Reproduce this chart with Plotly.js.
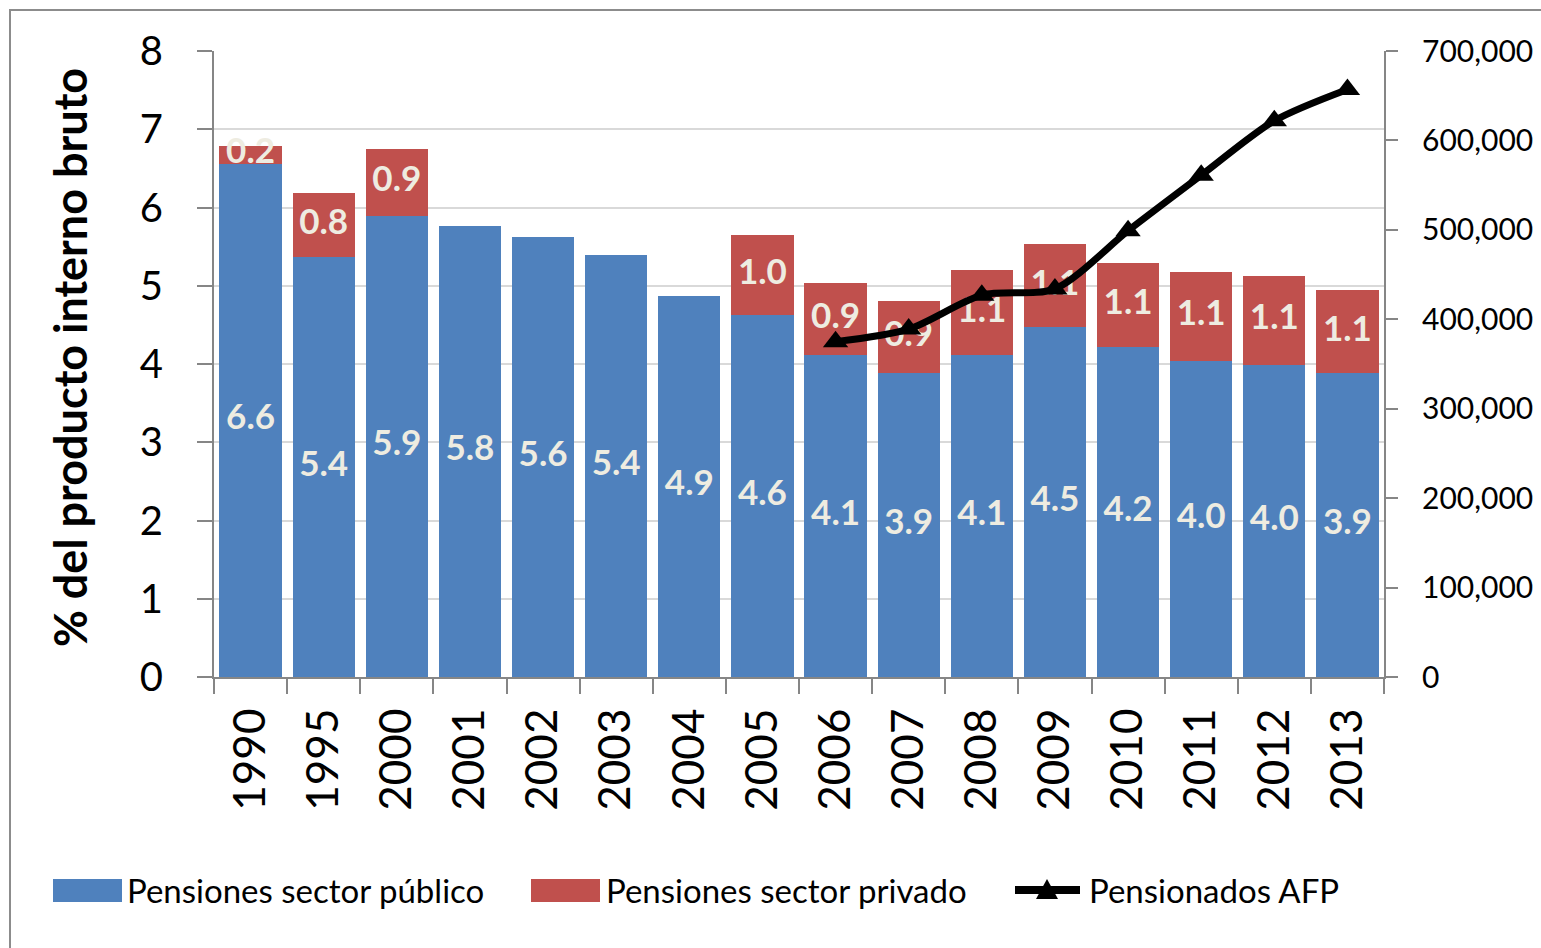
<!DOCTYPE html>
<html>
<head>
<meta charset="utf-8">
<script src="https://cdn.plot.ly/plotly-3.0.1.min.js"></script>
<style>
  html, body { margin: 0; padding: 0; background: #ffffff; overflow: hidden; }
  #chart { width: 1541px; height: 948px; }
  #frame { position: absolute; left: 9px; top: 9px; width: 1600px; height: 1000px;
           border: 2px solid #8c8c8c; pointer-events: none; }
</style>
</head>
<body>
<div id="chart"></div>
<div id="frame"></div>
<script>
// ---- data ----
const years = ['1990','1995','2000','2001','2002','2003','2004','2005','2006','2007','2008','2009','2010','2011','2012','2013'];
const publico = [6.56, 5.37, 5.89, 5.76, 5.62, 5.39, 4.87, 4.62, 4.11, 3.88, 4.11, 4.47, 4.22, 4.04, 3.99, 3.88];
const privado = [0.23, 0.81, 0.86, null, null, null, null, 1.03, 0.93, 0.92, 1.09, 1.06, 1.07, 1.14, 1.13, 1.06];
const afpYears = ['2006','2007','2008','2009','2010','2011','2012','2013'];
const pensionadosAFP = [375000, 389000, 427000, 434000, 499000, 561000, 622000, 657000];
const seriesNames = ['Pensiones sector público', 'Pensiones sector privado', 'Pensionados AFP'];
const yTitle = '% del producto interno bruto';

// ---- styles ----
const FONT = 'Lato, "Open Sans", sans-serif';
const BLUE = '#4f81bd', RED = '#c0504d', LABEL = '#eeece1', AXIS = '#868686', GRID = '#d9d9d9';

// plot-area pixel frame (used only to place the hand-made legend and title)
const L = 214, R = 1384, T = 51, B = 677;
const px = v => (v - L) / (R - L);
const py = v => (B - v) / (B - T);

const labelFont = { family: FONT, size: 35, color: LABEL, weight: 'bold' };

const traces = [
  { type: 'bar', x: years, y: publico, name: seriesNames[0], marker: { color: BLUE }, hoverinfo: 'skip' },
  { type: 'bar', x: years, y: privado, name: seriesNames[1], marker: { color: RED }, hoverinfo: 'skip' },
  { type: 'scatter', mode: 'text', x: years, y: publico.map(v => v / 2),
    text: publico.map(v => v.toFixed(1)), textfont: labelFont, hoverinfo: 'skip', showlegend: false },
  { type: 'scatter', mode: 'text',
    x: years.filter((y, i) => privado[i] != null),
    y: publico.map((v, i) => privado[i] != null ? v + privado[i] / 2 : null).filter(v => v != null),
    text: privado.filter(v => v != null).map(v => v.toFixed(1)),
    textfont: labelFont, hoverinfo: 'skip', showlegend: false },
  { type: 'scatter', mode: 'lines+markers', x: afpYears, y: pensionadosAFP, yaxis: 'y2', name: seriesNames[2],
    line: { color: '#000000', width: 7, shape: 'spline', smoothing: 0.8 },
    marker: { symbol: 'triangle-up', size: 22, color: '#000000' }, hoverinfo: 'skip' }
];

const layout = {
  width: 1541, height: 948,
  margin: { l: L, r: 1541 - R, t: T, b: 948 - B, pad: 0 },
  paper_bgcolor: '#ffffff', plot_bgcolor: '#ffffff',
  font: { family: FONT, color: '#000000' },
  barmode: 'stack', bargap: 0.15,
  showlegend: false,
  xaxis: {
    type: 'category', categoryorder: 'array', categoryarray: years, range: [-0.5, years.length - 0.5],
    tickson: 'boundaries', ticks: 'outside', ticklen: 15, tickwidth: 2, tickcolor: AXIS,
    showline: true, linecolor: AXIS, linewidth: 2, showgrid: false,
    tickangle: -90, tickfont: { family: FONT, size: 44, color: '#000' }, ticklabelstandoff: 12,
    fixedrange: true
  },
  yaxis: {
    range: [0, 8], dtick: 1, ticks: 'outside', ticklen: 15, tickwidth: 2, tickcolor: AXIS,
    showline: true, linecolor: AXIS, linewidth: 2, gridcolor: GRID, gridwidth: 2, zeroline: false,
    tickfont: { family: FONT, size: 40, color: '#000' }, ticklabelstandoff: 26, fixedrange: true
  },
  yaxis2: {
    overlaying: 'y', side: 'right', range: [0, 700000], dtick: 100000, tickformat: ',',
    ticks: 'outside', ticklen: 12, tickwidth: 2, tickcolor: AXIS,
    showline: true, linecolor: AXIS, linewidth: 2, showgrid: false, zeroline: false,
    tickfont: { family: FONT, size: 30, color: '#000' }, ticklabelstandoff: 18, fixedrange: true
  },
  annotations: [
    { xref: 'paper', yref: 'paper', x: px(70), y: py(358), text: yTitle, textangle: -90, showarrow: false,
      xanchor: 'center', yanchor: 'middle', font: { family: FONT, size: 45, weight: 'bold', color: '#000' } },
    { xref: 'paper', yref: 'paper', x: px(125), y: py(890), text: seriesNames[0], showarrow: false,
      xanchor: 'left', yanchor: 'middle', font: { family: FONT, size: 33, color: '#000' } },
    { xref: 'paper', yref: 'paper', x: px(604), y: py(890), text: seriesNames[1], showarrow: false,
      xanchor: 'left', yanchor: 'middle', font: { family: FONT, size: 33, color: '#000' } },
    { xref: 'paper', yref: 'paper', x: px(1087), y: py(890), text: seriesNames[2], showarrow: false,
      xanchor: 'left', yanchor: 'middle', font: { family: FONT, size: 33, color: '#000' } }
  ],
  shapes: [
    { type: 'rect', xref: 'paper', yref: 'paper', x0: px(53), x1: px(122), y0: py(902), y1: py(879),
      fillcolor: BLUE, line: { width: 0 } },
    { type: 'rect', xref: 'paper', yref: 'paper', x0: px(531), x1: px(600), y0: py(902), y1: py(879),
      fillcolor: RED, line: { width: 0 } },
    { type: 'line', xref: 'paper', yref: 'paper', x0: px(1015), x1: px(1080), y0: py(890), y1: py(890),
      line: { color: '#000', width: 8 } },
    { type: 'path', xref: 'paper', yref: 'paper',
      path: `M ${px(1036)} ${py(899)} L ${px(1058)} ${py(899)} L ${px(1047)} ${py(879)} Z`,
      fillcolor: '#000', line: { width: 0 } }
  ]
};

Plotly.newPlot('chart', traces, layout, { displayModeBar: false, staticPlot: true });
</script>
</body>
</html>
